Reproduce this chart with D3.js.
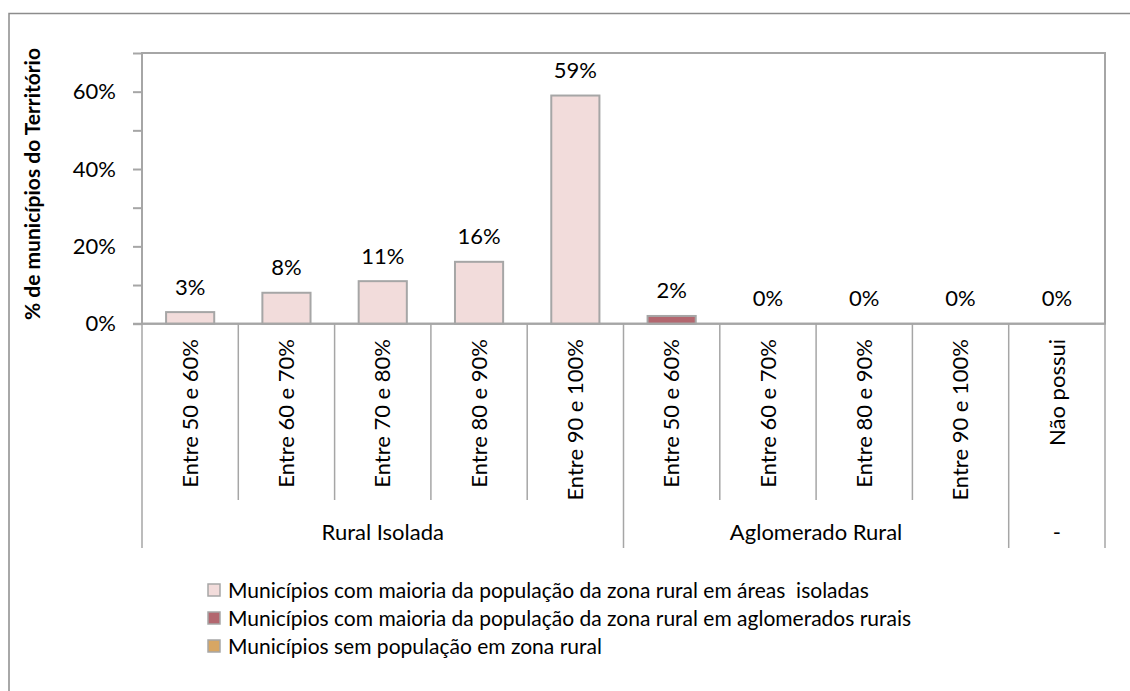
<!DOCTYPE html>
<html>
<head>
<meta charset="utf-8">
<script src="https://cdn.jsdelivr.net/npm/d3@7"></script>
<style>
  body { margin: 0; background: #fff; }
  text { font-family: Lato, "Open Sans", sans-serif; fill: #000; }
</style>
</head>
<body>
<svg id="chart" width="1130" height="691"></svg>
<script>
// categorias (eixo x) e grupos
var categorias = ['Entre 50 e 60%', 'Entre 60 e 70%', 'Entre 70 e 80%', 'Entre 80 e 90%', 'Entre 90 e 100%',
                  'Entre 50 e 60%', 'Entre 60 e 70%', 'Entre 80 e 90%', 'Entre 90 e 100%', 'Não possui'];
var grupos = [
    { nome: 'Rural Isolada', ini: 0, fim: 5 },
    { nome: 'Aglomerado Rural', ini: 5, fim: 9 },
    { nome: '-', ini: 9, fim: 10 }
];
// séries (null = sem valor nessa categoria)
var serieIsoladas   = [0.03, 0.08, 0.11, 0.16, 0.59, null, null, null, null, null];
var serieAglomerado = [null, null, null, null, null, 0.02, 0, 0, 0, null];
var serieSemPop     = [null, null, null, null, null, null, null, null, null, 0];
var nomesSeries = ['Municípios com maioria da população da zona rural em áreas  isoladas',
                   'Municípios com maioria da população da zona rural em aglomerados rurais',
                   'Municípios sem população em zona rural'];
var coresSeries = ['#F2DCDB', '#B3676F', '#D7A663'];
var yTicks = [0, 0.1, 0.2, 0.3, 0.4, 0.5, 0.6, 0.7];
var yLabels = [0, 0.2, 0.4, 0.6];

var svg = d3.select('#chart');
var margin = { left: 142, top: 53, right: 1105, bottom: 323.7 };
var cinza = '#A6A6A6';

// borda externa do gráfico
svg.append('rect')
    .attr('x', 9).attr('y', 13.5)
    .attr('width', 1200).attr('height', 700)
    .attr('fill', 'none').attr('stroke', '#8C8C8C').attr('stroke-width', 1.5);

var x = d3.scaleBand()
    .domain(d3.range(categorias.length))
    .range([margin.left, margin.right])
    .paddingInner(0).paddingOuter(0);

var y = d3.scaleLinear()
    .domain([0, 0.7])
    .range([margin.bottom, margin.top]);

// área de plotagem
svg.append('rect')
    .attr('x', margin.left).attr('y', margin.top)
    .attr('width', margin.right - margin.left).attr('height', margin.bottom - margin.top)
    .attr('fill', 'none').attr('stroke', cinza).attr('stroke-width', 2);

// eixo y
var eixoY = svg.append('g')
    .attr('transform', 'translate(' + margin.left + ',0)')
    .call(d3.axisLeft(y).tickValues(yTicks).tickSize(9).tickFormat(function (d) {
        return yLabels.some(function (v) { return Math.abs(v - d) < 1e-9; }) ? d3.format('.0%')(d) : '';
    }));
eixoY.select('.domain').remove();
eixoY.selectAll('.tick line').attr('stroke', cinza).attr('stroke-width', 2);
eixoY.selectAll('.tick text')
    .attr('x', -26)
    .style('font-size', '22px')
    .style('font-family', 'Lato, sans-serif')
    .attr('fill', '#000');

// título do eixo y
svg.append('text')
    .attr('transform', 'translate(40,184) rotate(-90)')
    .attr('text-anchor', 'middle')
    .style('font-size', '21px')
    .style('font-weight', 'bold')
    .text('% de municípios do Território');

// barras
var series = [serieIsoladas, serieAglomerado, serieSemPop];
var larg = x.bandwidth() / 2;
series.forEach(function (s, k) {
    var dados = s.map(function (v, i) { return { i: i, v: v }; }).filter(function (d) { return d.v !== null; });
    svg.append('g').selectAll('rect')
        .data(dados.filter(function (d) { return d.v > 0; }))
        .enter().append('rect')
        .attr('x', function (d) { return x(d.i) + (x.bandwidth() - larg) / 2; })
        .attr('y', function (d) { return y(d.v); })
        .attr('width', larg)
        .attr('height', function (d) { return y(0) - y(d.v); })
        .attr('fill', coresSeries[k])
        .attr('stroke', cinza).attr('stroke-width', 2);
    // rótulos de dados
    svg.append('g').selectAll('text')
        .data(dados)
        .enter().append('text')
        .attr('x', function (d) { return x(d.i) + x.bandwidth() / 2; })
        .attr('y', function (d) { return y(d.v) - 17.5; })
        .attr('text-anchor', 'middle')
        .style('font-size', '22px')
        .text(function (d) { return d3.format('.0%')(d.v); });
});

// eixo x (linha + divisórias)
svg.append('line')
    .attr('x1', margin.left - 9).attr('x2', margin.right)
    .attr('y1', y(0)).attr('y2', y(0))
    .attr('stroke', cinza).attr('stroke-width', 2);

var limitesGrupo = grupos.map(function (g) { return g.ini; }).concat([categorias.length]);
d3.range(categorias.length + 1).forEach(function (i) {
    var xx = i < categorias.length ? x(i) : margin.right;
    var ehGrupo = limitesGrupo.indexOf(i) >= 0;
    svg.append('line')
        .attr('x1', xx).attr('x2', xx)
        .attr('y1', y(0)).attr('y2', ehGrupo ? 548 : 500)
        .attr('stroke', cinza).attr('stroke-width', 1.5);
});

// rótulos das categorias (rotacionados)
svg.append('g').selectAll('text')
    .data(categorias)
    .enter().append('text')
    .attr('transform', function (d, i) {
        return 'translate(' + (x(i) + x.bandwidth() / 2) + ',339) rotate(-90)';
    })
    .attr('text-anchor', 'end')
    .attr('dy', '0.35em')
    .style('font-size', '22px')
    .text(function (d) { return d; });

// rótulos dos grupos
svg.append('g').selectAll('text')
    .data(grupos)
    .enter().append('text')
    .attr('x', function (g) { return (x(g.ini) + (g.fim < categorias.length ? x(g.fim) : margin.right)) / 2; })
    .attr('y', 540)
    .attr('text-anchor', 'middle')
    .style('font-size', '22px')
    .text(function (g) { return g.nome; });

// legenda
var leg = svg.append('g').selectAll('g')
    .data(nomesSeries)
    .enter().append('g')
    .attr('transform', function (d, i) { return 'translate(208,' + (590 + i * 28) + ')'; });
leg.append('rect')
    .attr('x', 0).attr('y', -6)
    .attr('width', 12).attr('height', 12)
    .attr('fill', function (d, i) { return coresSeries[i]; })
    .attr('stroke', cinza).attr('stroke-width', 1.5);
leg.append('text')
    .attr('x', 20).attr('y', 7.5)
    .style('font-size', '21px')
    .style('white-space', 'pre')
    .text(function (d) { return d; });
</script>
</body>
</html>
